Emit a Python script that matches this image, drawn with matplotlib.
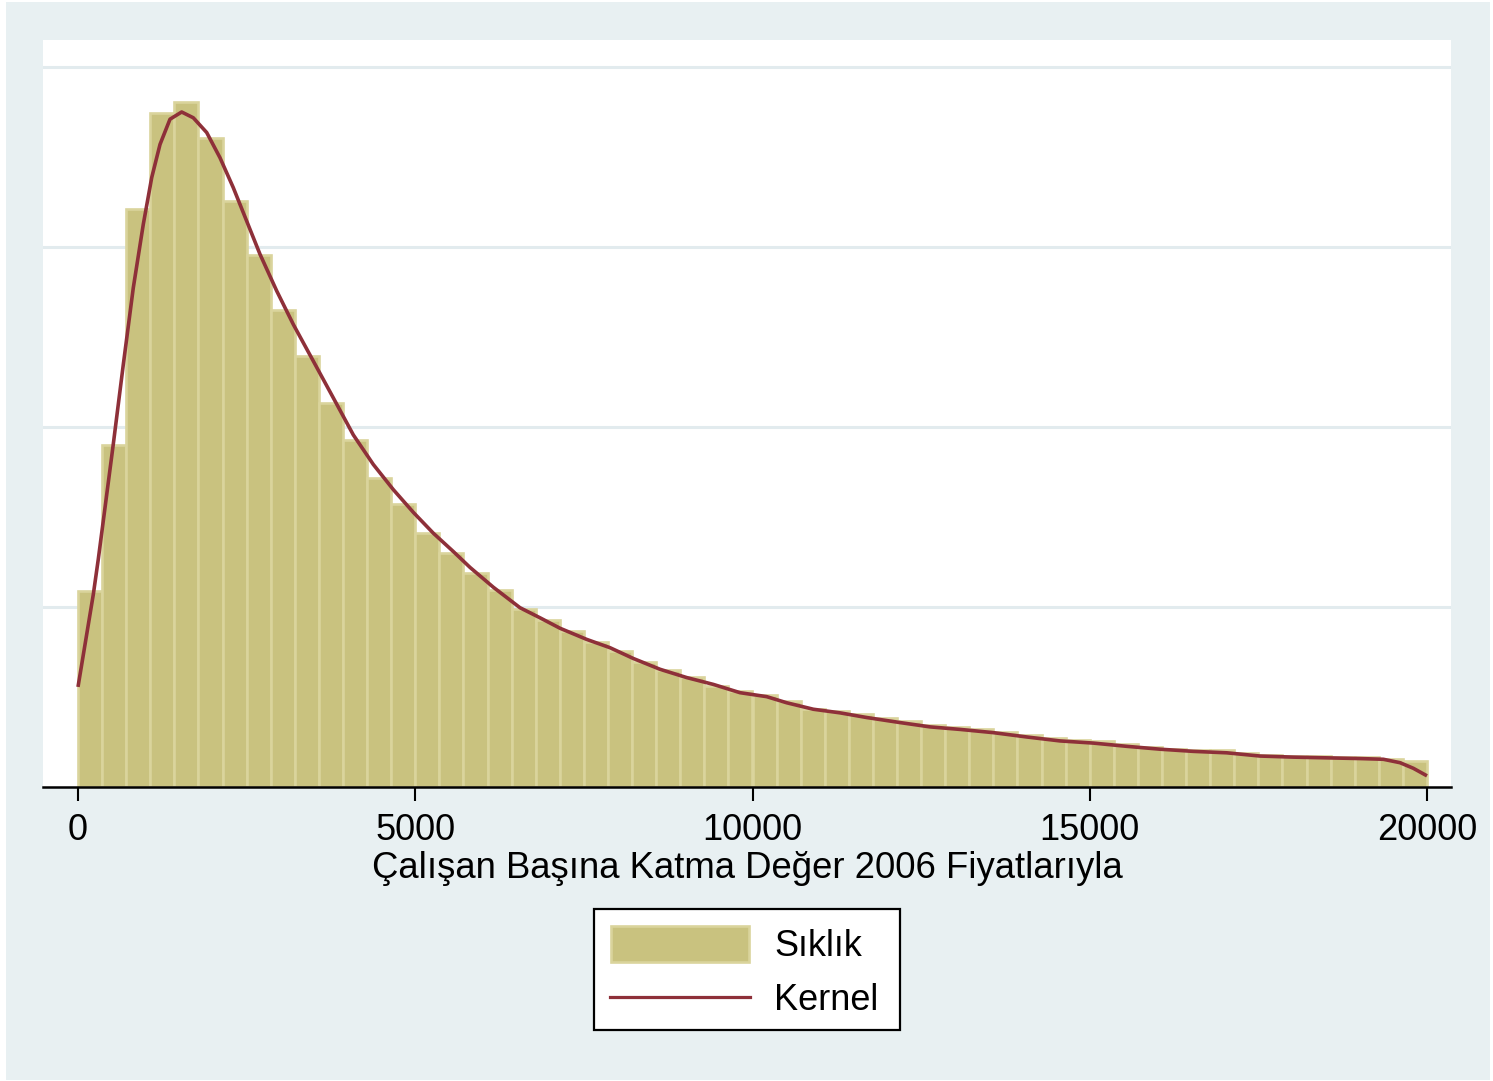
import numpy as np
import matplotlib
matplotlib.use("Agg")
import matplotlib.pyplot as plt
from matplotlib.patches import Rectangle
from matplotlib.lines import Line2D

plt.rcParams['font.family'] = ['Liberation Sans', 'DejaVu Sans']

# ---------------- data ----------------
# histogram: 56 equal bins from 0 to 20000, density values (x 1e-6)
bin_start = 0
bin_end = 20000
n_bins = 56
hist_density = [54.4, 94.9, 160.6, 187.2, 190.2, 180.2, 162.8, 147.7, 132.5, 119.7,
                106.8, 96.3, 85.9, 78.5, 70.5, 65.1, 59.5, 54.8, 49.4, 46.3,
                43.3, 40.3, 37.7, 34.8, 32.6, 30.6, 28.0, 26.8, 25.5, 23.9,
                21.6, 21.1, 20.4, 19.3, 18.3, 17.1, 16.6, 16.0, 15.3, 14.4,
                13.7, 13.0, 12.7, 11.9, 11.2, 10.6, 10.2, 10.4, 9.5, 8.9,
                8.7, 8.5, 8.3, 8.3, 7.8, 7.2]

# kernel density estimate (x 1e-6)
kernel_x = [0, 227, 301, 523, 672, 820, 968, 1093, 1216, 1364,
            1537, 1709, 1908, 2105, 2302, 2501, 2698, 2946, 3192, 3489,
            3785, 4082, 4378, 4675, 4971, 5268, 5565, 5812, 6157, 6553,
            6850, 7146, 7542, 7887, 8233, 8629, 9024, 9419, 9815, 10210,
            10507, 10902, 11297, 11693, 12187, 12632, 13076, 13570, 14065, 14559,
            15053, 15548, 16042, 16535, 17030, 17524, 18018, 18513, 19007, 19353,
            19600, 19797, 20000]
kernel_y = [27.8, 53.5, 63.3, 95.2, 117.4, 138.7, 156.3, 169.3, 178.5, 185.5,
            187.5, 185.9, 181.8, 174.8, 166.5, 157.2, 148.0, 137.8, 128.5, 118.3,
            108.1, 97.8, 89.6, 82.6, 76.3, 70.5, 65.4, 61.0, 55.5, 49.8,
            47.0, 44.1, 41.0, 38.7, 35.7, 32.7, 30.4, 28.5, 26.2, 25.1,
            23.4, 21.6, 20.6, 19.3, 17.9, 16.7, 16.0, 15.1, 13.9, 12.8,
            12.2, 11.3, 10.5, 9.9, 9.5, 8.6, 8.3, 8.1, 7.9, 7.7,
            6.75, 5.2, 3.1]

x_ticks = [0, 5000, 10000, 15000, 20000]
y_grid = [50, 100, 150, 200]
x_title = "Çalışan Başına Katma Değer 2006 Fiyatlarıyla"
legend_labels = ["Sıklık", "Kernel"]

# ---------------- style ----------------
W, H = 1493, 1081
BG = "#E8F0F2"
GRID = "#E2EBEE"
BAR = "#C9C27F"
BAR_EDGE = "#DAD49C"
LINE = "#8E3039"
FS = 26

fig = plt.figure(figsize=(W / 100, H / 100), dpi=100, facecolor="white")
fig.patches.append(Rectangle((6 / W, 1 - 1080 / H), (1490 - 6) / W, (1080 - 2) / H,
                             transform=fig.transFigure, facecolor=BG,
                             edgecolor="none", zorder=-10))

ax_l, ax_r, ax_t, ax_b = 43, 1451, 40, 787
ax = fig.add_axes([ax_l / W, 1 - ax_b / H, (ax_r - ax_l) / W, (ax_b - ax_t) / H])
ax.set_facecolor("white")

px_per_unit = 1349 / 20000.0
ax.set_xlim(-(78 - ax_l) / px_per_unit, (ax_r - 78) / px_per_unit)
ax.set_ylim(0, (ax_b - ax_t) / 3.6)

edges = np.linspace(bin_start, bin_end, n_bins + 1)
bw = edges[1] - edges[0]
ax.bar(edges[:-1], hist_density, width=bw, align="edge", color=BAR,
       edgecolor=BAR_EDGE, linewidth=1.9, zorder=2)
ax.plot(kernel_x, kernel_y, color=LINE, linewidth=2.6, zorder=3,
        solid_joinstyle="round", solid_capstyle="butt")

ax.set_yticks(y_grid)
ax.yaxis.grid(True, color=GRID, linewidth=2.2)
ax.set_axisbelow(True)
ax.tick_params(axis="y", left=False, labelleft=False)

ax.set_xticks(x_ticks)
ax.set_xticklabels([str(t) for t in x_ticks], fontsize=FS)
ax.tick_params(axis="x", length=10, width=1.5, pad=9, color="black")

for s in ["top", "right", "left"]:
    ax.spines[s].set_visible(False)
ax.spines["bottom"].set_linewidth(1.8)
ax.spines["bottom"].set_zorder(4)

ax.set_xlabel(x_title, fontsize=26.3, labelpad=2)

# ---------------- legend ----------------
def fx(px):
    return px / W

def fy(py):
    return 1 - py / H

fig.patches.append(Rectangle((fx(594), fy(1030)), fx(900) - fx(594), fy(909) - fy(1030),
                             transform=fig.transFigure, facecolor="white",
                             edgecolor="black", linewidth=1.6, zorder=5))
fig.patches.append(Rectangle((fx(611), fy(962)), fx(749) - fx(611), fy(926) - fy(962),
                             transform=fig.transFigure, facecolor=BAR,
                             edgecolor=BAR_EDGE, linewidth=1.9, zorder=6))
fig.lines.append(Line2D([fx(610), fx(750)], [fy(997), fy(997)], transform=fig.transFigure,
                        color=LINE, linewidth=2.3, zorder=6))
fig.text(fx(774), fy(947), legend_labels[0], fontsize=FS, va="center", ha="left", zorder=7)
fig.text(fx(774), fy(1000), legend_labels[1], fontsize=FS, va="center", ha="left", zorder=7)

fig.savefig("out.png", dpi=100, facecolor="white")
